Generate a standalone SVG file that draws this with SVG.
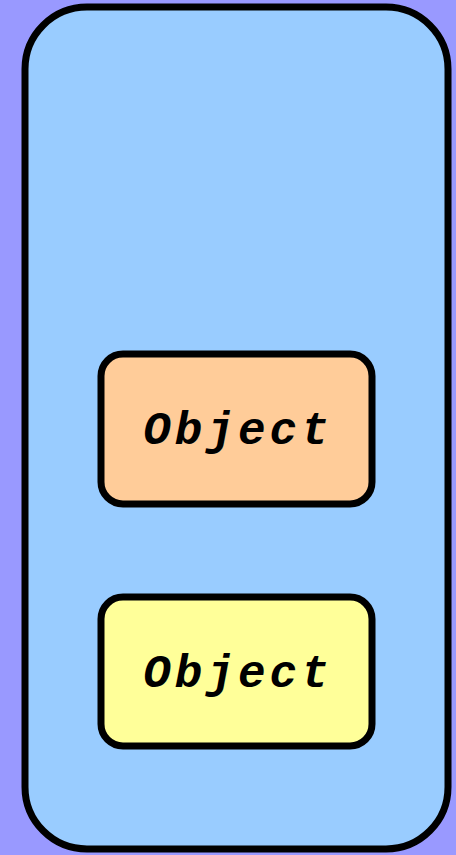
<svg xmlns="http://www.w3.org/2000/svg" width="456" height="855" viewBox="0 0 456 855">
<style>
.box{stroke:#000;stroke-width:7}
.lbl{font-family:"Liberation Mono","Courier New",monospace;font-weight:bold;font-style:italic;font-size:46px;letter-spacing:4px;fill:#000;text-anchor:middle}
</style>
<rect x="0" y="0" width="456" height="855" fill="#9999FF"/>
<g id="container">
<rect class="box" x="25" y="7" width="423" height="842" rx="62" ry="62" fill="#99CCFF"/>
</g>
<g id="connectors"></g>
<g id="node1">
<rect class="box" x="101" y="354" width="271" height="150" rx="22" ry="22" fill="#FFCC99"/>
<text class="lbl" x="238" y="444">Object</text>
</g>
<g id="node2">
<rect class="box" x="101" y="597" width="271" height="149" rx="22" ry="22" fill="#FFFF99"/>
<text class="lbl" x="238" y="687">Object</text>
</g>
</svg>
